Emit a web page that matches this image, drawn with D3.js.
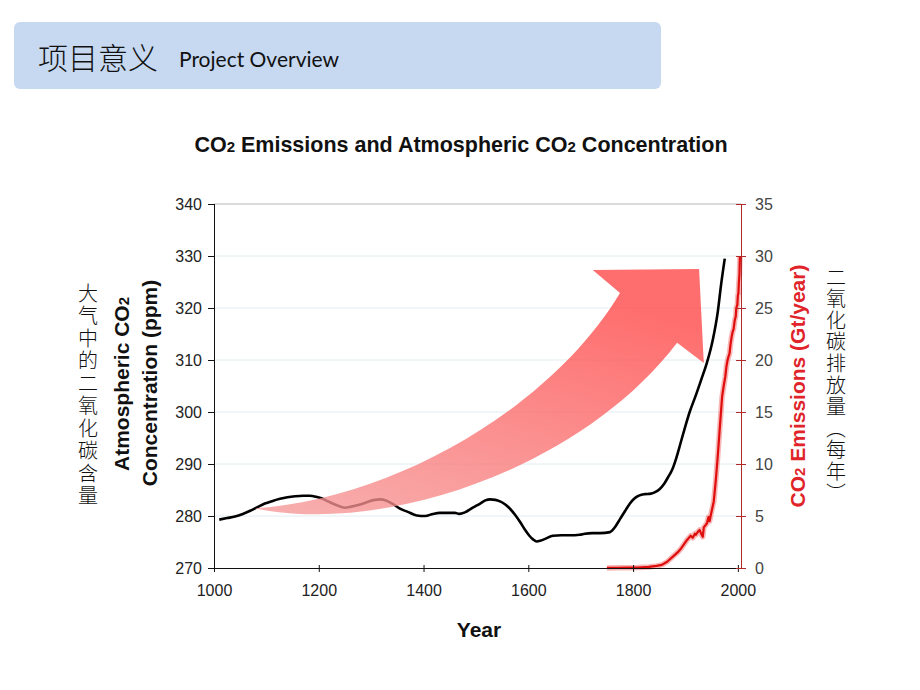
<!DOCTYPE html>
<html>
<head>
<meta charset="utf-8">
<script src="https://cdn.jsdelivr.net/npm/d3@7/dist/d3.min.js"></script>
<style>
  html, body { margin: 0; padding: 0; background: #ffffff; }
  svg { display: block; }
</style>
</head>
<body>
<svg id="chart" width="920" height="690"></svg>
<script>
// ---------------- DATA ----------------
const concYears = [1010,1025,1040,1055,1069,1083,1097,1112,1126,1140,1155,1170,1183,1195,1205,1218,1231,1242,1250,1262,1279,1293,1307,1318,1328,1342,1355,1370,1387,1403,1418,1431,1446,1460,1468,1479,1494,1508,1518,1527,1537,1546,1556,1565,1575,1584,1594,1602,1609,1616,1624,1632,1647,1663,1679,1698,1708,1722,1737,1756,1765,1775,1785,1794,1802,1809,1816,1823,1834,1842,1851,1860,1867,1875,1882,1890,1899,1908,1919,1930,1941,1952,1962,1968,1975];
const concPPM   = [279.3,279.6,279.9,280.4,281.0,281.7,282.4,282.9,283.3,283.6,283.8,283.9,283.9,283.7,283.4,282.8,282.2,281.8,281.6,281.8,282.2,282.7,283.1,283.2,283.0,282.3,281.4,280.8,280.1,280.0,280.4,280.6,280.6,280.6,280.4,280.7,281.6,282.4,283.0,283.2,283.1,282.8,282.2,281.4,280.2,278.9,277.3,276.2,275.5,275.1,275.3,275.6,276.2,276.3,276.3,276.4,276.6,276.7,276.7,276.9,277.8,279.4,281.0,282.4,283.3,283.8,284.1,284.2,284.3,284.6,285.2,286.3,287.5,289.0,291.0,293.8,297.0,300.0,303.0,306.2,309.5,313.8,319.5,324.5,329.5];

const emisYears = [1750,1770,1790,1810,1830,1845,1855,1865,1876,1885,1892,1903,1910,1914,1918,1920,1924,1927,1930,1933,1935,1938,1941,1944,1946,1948,1951,1954,1958,1962,1966,1970,1973,1976,1978,1980,1982,1984,1986,1988,1990,1992,1994,1996,1997,1999,2000,2001,2002,2003,2004];
const emisGt    = [0.01,0.02,0.03,0.05,0.1,0.2,0.3,0.6,1.1,1.5,1.9,2.7,3.1,2.9,3.3,3.2,3.5,3.65,3.3,3.0,3.9,4.1,4.3,4.9,4.5,5.0,5.7,6.4,8.5,11.0,13.8,16.5,17.5,18.4,19.3,19.9,20.3,20.6,21.5,22.2,22.7,23.0,23.8,24.2,25.0,25.3,26.2,26.4,27.5,28.2,30.0];

const xTicks     = [1000,1200,1400,1600,1800,2000];
const leftTicks  = [270,280,290,300,310,320,330,340];
const rightTicks = [0,5,10,15,20,25,30,35];

// Decorative arrow, defined in data units [year, ppm]
const arrowTail     = [1078, 281.5];
const arrowUpperC1  = [1336, 283.1];
const arrowUpperC2  = [1641, 300.4];
const arrowNotchUp  = [1775, 322.9];
const arrowHeadA    = [1723, 327.3];
const arrowHeadB    = [1926, 327.5];
const arrowHeadC    = [1935, 309.4];
const arrowNotchLow = [1884, 313.3];
const arrowLowerC2  = [1699, 288.8];
const arrowLowerC1  = [1317, 276.3];

// ---------------- CHART ----------------
const svg = d3.select("#chart");
const FONT = "'Liberation Sans', Arial, sans-serif";
const CJK = "'Noto Sans CJK SC', sans-serif";

const plotL = 214, plotR = 741, plotT = 204, plotB = 568;
const x  = d3.scaleLinear().domain([1000, 2006]).range([plotL, plotR]);
const yL = d3.scaleLinear().domain([270, 340]).range([plotB, plotT]);
const yR = d3.scaleLinear().domain([0, 35]).range([plotB, plotT]);

// Header banner
svg.append("rect").attr("x", 14).attr("y", 22).attr("width", 647).attr("height", 67)
  .attr("rx", 6).attr("fill", "#c6d9f1");
svg.append("text").attr("x", 38).attr("y", 69)
  .attr("font-family", CJK).attr("font-size", 30).attr("font-weight", 300)
  .attr("fill", "#111").text("项目意义");
svg.append("text").attr("x", 179).attr("y", 67)
  .attr("font-family", "Lato, 'Open Sans', sans-serif").attr("font-size", 21)
  .attr("fill", "#111").text("Project Overview");

// Title
const title = svg.append("text").attr("x", 461).attr("y", 152).attr("text-anchor", "middle")
  .attr("font-family", FONT).attr("font-size", 21.5).attr("font-weight", "bold").attr("fill", "#111");
title.append("tspan").text("CO");
title.append("tspan").attr("font-size", 15).text("2");
title.append("tspan").text(" Emissions and Atmospheric CO");
title.append("tspan").attr("font-size", 15).text("2");
title.append("tspan").text(" Concentration");

// Gridlines
svg.append("g").selectAll("line").data(leftTicks.filter(d => d > 270)).join("line")
  .attr("x1", plotL).attr("x2", plotR)
  .attr("y1", d => yL(d)).attr("y2", d => yL(d))
  .attr("stroke", d => d === 340 ? "#b8b8b8" : "#e2eef0").attr("stroke-width", 1);

// Concentration line
const lineL = d3.line().x((d, i) => x(concYears[i])).y(d => yL(d)).curve(d3.curveMonotoneX);
svg.append("path").datum(concPPM).attr("d", lineL)
  .attr("fill", "none").attr("stroke", "#000").attr("stroke-width", 2.6)
  .attr("stroke-linejoin", "round");

// Arrow
const defs = svg.append("defs");
const grad = defs.append("linearGradient").attr("id", "arrowGrad")
  .attr("x1", 0).attr("y1", 1).attr("x2", 0.55).attr("y2", 0);
grad.append("stop").attr("offset", "0%").attr("stop-color", "#f59a9a");
grad.append("stop").attr("offset", "100%").attr("stop-color", "#ff4545");

const P = p => [x(p[0]), yL(p[1])];
const ap = d3.path();
ap.moveTo(...P(arrowTail));
ap.bezierCurveTo(...P(arrowUpperC1), ...P(arrowUpperC2), ...P(arrowNotchUp));
ap.lineTo(...P(arrowHeadA));
ap.lineTo(...P(arrowHeadB));
ap.lineTo(...P(arrowHeadC));
ap.lineTo(...P(arrowNotchLow));
ap.bezierCurveTo(...P(arrowLowerC2), ...P(arrowLowerC1), ...P(arrowTail));
ap.closePath();
svg.append("path").attr("d", ap.toString()).attr("fill", "url(#arrowGrad)").attr("fill-opacity", 0.78);

// Emissions line (with glow)
const lineR = d3.line().x((d, i) => x(emisYears[i])).y(d => yR(d)).curve(d3.curveLinear);
svg.append("path").datum(emisGt).attr("d", lineR)
  .attr("fill", "none").attr("stroke", "#f06060").attr("stroke-opacity", 0.45).attr("stroke-width", 5.5)
  .attr("stroke-linejoin", "round");
svg.append("path").datum(emisGt).attr("d", lineR)
  .attr("fill", "none").attr("stroke", "#e00d0d").attr("stroke-width", 2.2)
  .attr("stroke-linejoin", "round");

// Axes
const axisB = d3.axisBottom(x).tickValues(xTicks).tickFormat(d3.format("d")).tickSize(4).tickPadding(13);
const gB = svg.append("g").attr("transform", `translate(0,${plotB})`).call(axisB);
gB.select(".domain").attr("stroke", "#111").attr("d", `M${plotL},0.5H${plotR}`);
gB.selectAll(".tick line").attr("stroke", "#111").attr("y1", -3).attr("y2", 4);
gB.selectAll("text").attr("font-family", FONT).attr("font-size", 16).attr("fill", "#222");

const axisLft = d3.axisLeft(yL).tickValues(leftTicks).tickSize(6).tickPadding(6);
const gL = svg.append("g").attr("transform", `translate(${plotL},0)`).call(axisLft);
gL.select(".domain").attr("stroke", "#111").attr("d", `M0.5,${plotT}V${plotB}`);
gL.selectAll(".tick line").attr("stroke", "#111");
gL.selectAll("text").attr("font-family", FONT).attr("font-size", 16).attr("fill", "#222");

const axisRgt = d3.axisRight(yR).tickValues(rightTicks).tickSize(5).tickPadding(9);
const gR = svg.append("g").attr("transform", `translate(${plotR},0)`).call(axisRgt);
gR.select(".domain").attr("stroke", "#b02a2a").attr("d", `M0.5,${plotT}V${plotB}`);
gR.selectAll(".tick line").attr("stroke", "#b02a2a").attr("x1", -5).attr("x2", 5);
gR.selectAll("text").attr("font-family", FONT).attr("font-size", 16).attr("fill", "#444");

// Axis titles
svg.append("text").attr("x", 479).attr("y", 637).attr("text-anchor", "middle")
  .attr("font-family", FONT).attr("font-size", 21).attr("font-weight", "bold").attr("fill", "#111")
  .text("Year");

const lt1 = svg.append("text").attr("transform", "translate(129,384) rotate(-90)").attr("text-anchor", "middle")
  .attr("font-family", FONT).attr("font-size", 21).attr("font-weight", "bold").attr("fill", "#111");
lt1.append("tspan").text("Atmospheric CO");
lt1.append("tspan").attr("font-size", 15).text("2");
svg.append("text").attr("transform", "translate(157,383) rotate(-90)").attr("text-anchor", "middle")
  .attr("font-family", FONT).attr("font-size", 21).attr("font-weight", "bold").attr("fill", "#111")
  .text("Concentration (ppm)");

const rt = svg.append("text").attr("transform", "translate(805,386) rotate(-90)").attr("text-anchor", "middle")
  .attr("font-family", FONT).attr("font-size", 21).attr("font-weight", "bold").attr("fill", "#e0242a");
rt.append("tspan").text("CO");
rt.append("tspan").attr("font-size", 15).text("2");
rt.append("tspan").text(" Emissions (Gt/year)");

// Chinese vertical annotations
svg.append("text").attr("x", 88).attr("y", 283)
  .attr("writing-mode", "vertical-rl").attr("font-family", CJK).attr("font-size", 20)
  .attr("font-weight", 300).attr("letter-spacing", 2.5).attr("fill", "#111")
  .text("大气中的二氧化碳含量");
svg.append("text").attr("x", 836).attr("y", 267)
  .attr("writing-mode", "vertical-rl").attr("font-family", CJK).attr("font-size", 20)
  .attr("font-weight", 300).attr("letter-spacing", 1.6).attr("fill", "#111")
  .text("二氧化碳排放量（每年）");
</script>
</body>
</html>
